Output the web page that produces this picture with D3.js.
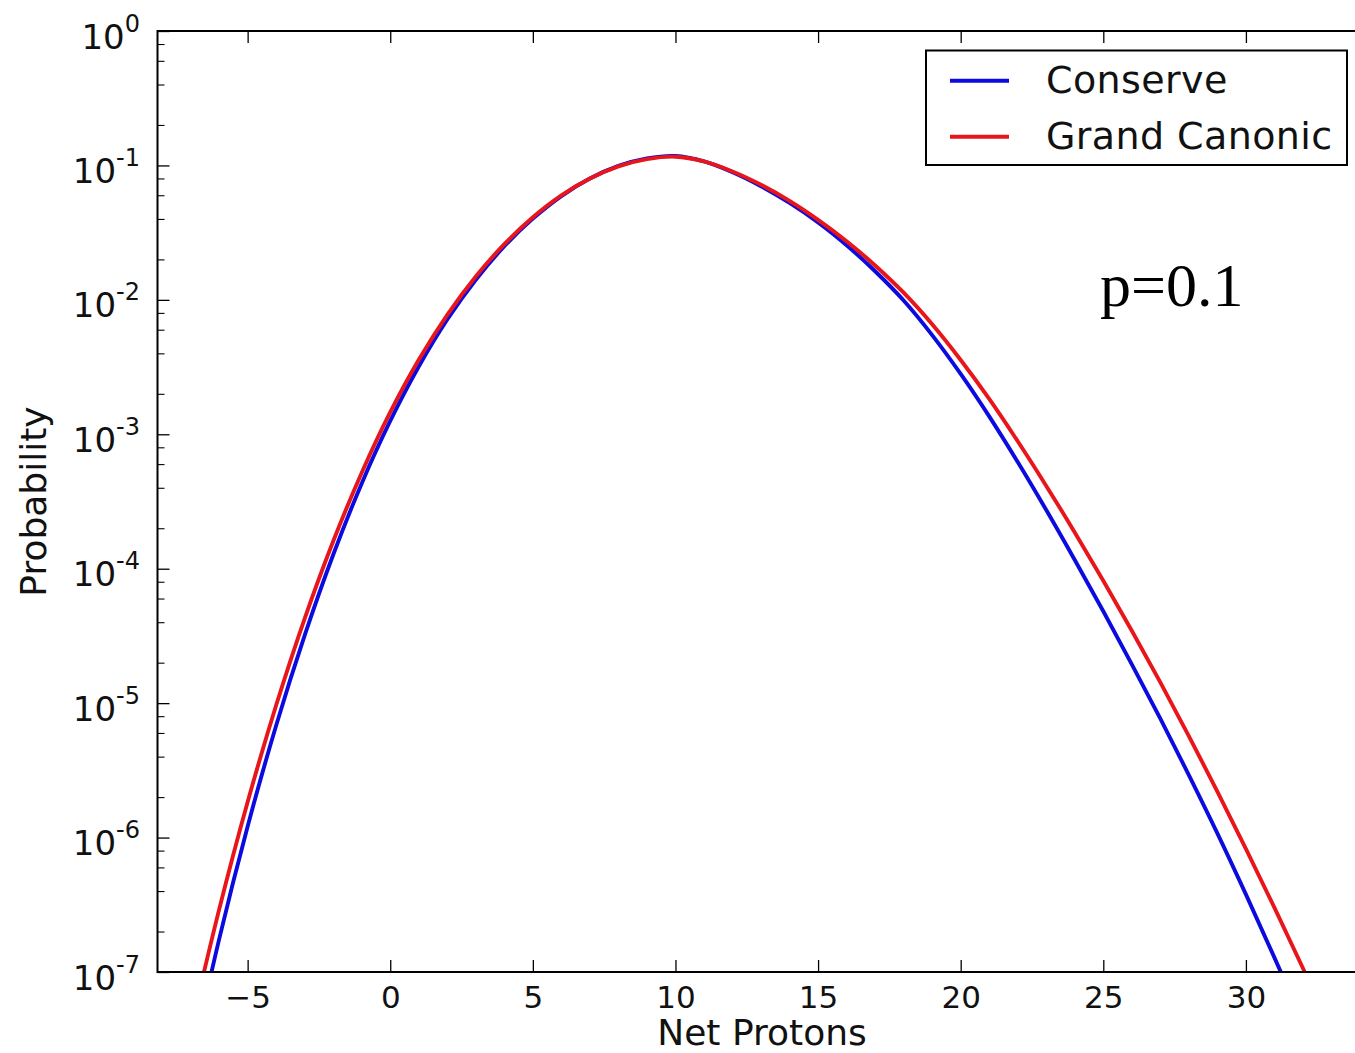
<!DOCTYPE html>
<html>
<head>
<meta charset="utf-8">
<script src="https://cdn.jsdelivr.net/npm/d3@7"></script>
<style>
  html, body { margin: 0; padding: 0; background: #ffffff; }
  svg { display: block; }
</style>
</head>
<body>
<svg id="chart" width="1355" height="1053"></svg>
<script>
// ---- data ----
const netProtons = [-7,-6,-5,-4,-3,-2,-1,0,1,2,3,4,5,6,7,8,9,10,11,12,13,14,15,16,17,18,19,20,21,22,23,24,25,26,27,28,29,30,31,32,33];
const conserve = [1.97e-8,1.75e-7,1.21e-6,6.82e-6,3.19e-5,1.27e-4,4.31e-4,1.256e-3,3.19e-3,7.14e-3,1.409e-2,2.506e-2,4.02e-2,5.92e-2,7.99e-2,9.91e-2,1.127e-1,1.175e-1,1.072e-1,8.91e-2,7.01e-2,5.26e-2,3.77e-2,2.55e-2,1.633e-2,9.89e-3,5.47e-3,2.81e-3,1.358e-3,6.21e-4,2.73e-4,1.161e-4,4.82e-5,1.945e-5,7.66e-6,2.92e-6,1.076e-6,3.78e-7,1.28e-7,4.24e-8,1.37e-8];
const grandCanonic = [3.75e-8,2.91e-7,1.84e-6,9.64e-6,4.26e-5,1.60e-4,5.18e-4,1.459e-3,3.58e-3,7.74e-3,1.493e-2,2.594e-2,4.11e-2,5.98e-2,7.99e-2,9.84e-2,1.114e-1,1.161e-1,1.072e-1,9.02e-2,7.18e-2,5.45e-2,3.94e-2,2.73e-2,1.803e-2,1.130e-2,6.58e-3,3.57e-3,1.832e-3,8.87e-4,4.13e-4,1.862e-4,8.15e-5,3.46e-5,1.426e-5,5.69e-6,2.20e-6,8.24e-7,3.01e-7,1.067e-7,3.69e-8];
const seriesNames = ["Conserve", "Grand Canonic"];
const xTickValues = [-5, 0, 5, 10, 15, 20, 25, 30];
const xTickLabels = ["\u22125", "0", "5", "10", "15", "20", "25", "30"];
const yTickExponents = [0, -1, -2, -3, -4, -5, -6, -7];
const xDomain = [-8.16, 34];
const yDomain = [1e-7, 1];
const annotation = "p=0.1";
const xLabel = "Net Protons";
const yLabel = "Probability";

(function () {
// ---- layout ----
const svg = d3.select("#chart");
const pL = 157.5, pR = 1360, pT = 31, pB = 972;
const colors = ["#0b0be0", "#e8161a"];
const FONT = "'DejaVu Sans', sans-serif";

const x = d3.scaleLinear().domain(xDomain).range([pL, pR]);
const y = d3.scaleLog().domain(yDomain).range([pB, pT]);

svg.append("defs").append("clipPath").attr("id", "plotclip")
  .append("rect").attr("x", pL).attr("y", pT).attr("width", pR - pL).attr("height", pB - pT);

// curves
const line = d3.line()
  .x(d => x(d[0]))
  .y(d => y(d[1]))
  .curve(d3.curveCatmullRom.alpha(0.5));

const series = [conserve, grandCanonic];
const plot = svg.append("g").attr("clip-path", "url(#plotclip)");
series.forEach((vals, i) => {
  const pts = netProtons.map((n, k) => [n, vals[k]]);
  plot.append("path")
    .attr("d", line(pts))
    .attr("fill", "none")
    .attr("stroke", colors[i])
    .attr("stroke-width", 3.9)
    .attr("stroke-linejoin", "round");
});

// frame
svg.append("rect")
  .attr("x", pL).attr("y", pT).attr("width", pR - pL).attr("height", pB - pT)
  .attr("fill", "none").attr("stroke", "#000").attr("stroke-width", 2);

// x ticks (bottom + top, inward)
const xAxisB = d3.axisBottom(x).tickValues(xTickValues).tickSizeInner(-12).tickSizeOuter(0)
  .tickPadding(14).tickFormat((d, i) => xTickLabels[i]);
const gxb = svg.append("g").attr("transform", `translate(0,${pB})`).call(xAxisB);
gxb.select(".domain").remove();
gxb.selectAll(".tick line").attr("stroke", "#000").attr("stroke-width", 1.3);
gxb.selectAll(".tick text").attr("font-family", FONT).attr("font-size", 31).attr("fill", "#111")
  .attr("y", 36).attr("dy", null);

const xAxisT = d3.axisTop(x).tickValues(xTickValues).tickSizeInner(-12).tickSizeOuter(0).tickFormat("");
const gxt = svg.append("g").attr("transform", `translate(0,${pT})`).call(xAxisT);
gxt.select(".domain").remove();
gxt.selectAll(".tick line").attr("stroke", "#000").attr("stroke-width", 1.3);

// y ticks major + minor (inward)
const majorVals = yTickExponents.map(e => Math.pow(10, e));
const minorVals = [];
yTickExponents.forEach(e => { if (e < 0) [2,4,6,8].forEach(m => minorVals.push(m * Math.pow(10, e))); });

const yAxisMajor = d3.axisLeft(y).tickValues(majorVals).tickSizeInner(-12).tickSizeOuter(0).tickFormat("");
const gym = svg.append("g").attr("transform", `translate(${pL},0)`).call(yAxisMajor);
gym.select(".domain").remove();
gym.selectAll(".tick line").attr("stroke", "#000").attr("stroke-width", 1.3);

const yAxisMinor = d3.axisLeft(y).tickValues(minorVals).tickSizeInner(-7).tickSizeOuter(0).tickFormat("");
const gyn = svg.append("g").attr("transform", `translate(${pL},0)`).call(yAxisMinor);
gyn.select(".domain").remove();
gyn.selectAll(".tick line").attr("stroke", "#000").attr("stroke-width", 1.1);

// y tick labels: 10^e
const ylab = svg.append("g");
yTickExponents.forEach(e => {
  const t = ylab.append("text")
    .attr("x", 140).attr("y", y(Math.pow(10, e)) + 17.5)
    .attr("text-anchor", "end")
    .attr("font-family", FONT).attr("font-size", 34).attr("fill", "#111");
  t.append("tspan").text("10");
  t.append("tspan").attr("dy", -17).attr("font-size", 24).text(e === 0 ? "0" : "-" + Math.abs(e));
});

// axis titles
svg.append("text")
  .attr("x", 762).attr("y", 1045)
  .attr("text-anchor", "middle")
  .attr("font-family", FONT).attr("font-size", 36).attr("fill", "#111")
  .text(xLabel);

svg.append("text")
  .attr("transform", `translate(46,${(pT + pB) / 2}) rotate(-90)`)
  .attr("text-anchor", "middle")
  .attr("font-family", FONT).attr("font-size", 36).attr("fill", "#111")
  .text(yLabel);

// legend
const lg = svg.append("g");
lg.append("rect")
  .attr("x", 926).attr("y", 50.5).attr("width", 421).attr("height", 114.5)
  .attr("fill", "#fff").attr("stroke", "#000").attr("stroke-width", 2);
const legendRowY = [80.7, 136.7];
seriesNames.forEach((name, i) => {
  lg.append("line")
    .attr("x1", 950).attr("x2", 1009)
    .attr("y1", legendRowY[i]).attr("y2", legendRowY[i])
    .attr("stroke", colors[i]).attr("stroke-width", 4);
  lg.append("text")
    .attr("x", 1046).attr("y", legendRowY[i] + 12.5)
    .attr("font-family", FONT).attr("font-size", 38).attr("letter-spacing", 0.4).attr("fill", "#111")
    .text(name);
});

// annotation
svg.append("text")
  .attr("x", 1100).attr("y", 306)
  .attr("font-family", "'Liberation Serif', 'Times New Roman', serif")
  .attr("font-size", 62).attr("fill", "#000")
  .text(annotation);
})();
</script>
</body>
</html>
